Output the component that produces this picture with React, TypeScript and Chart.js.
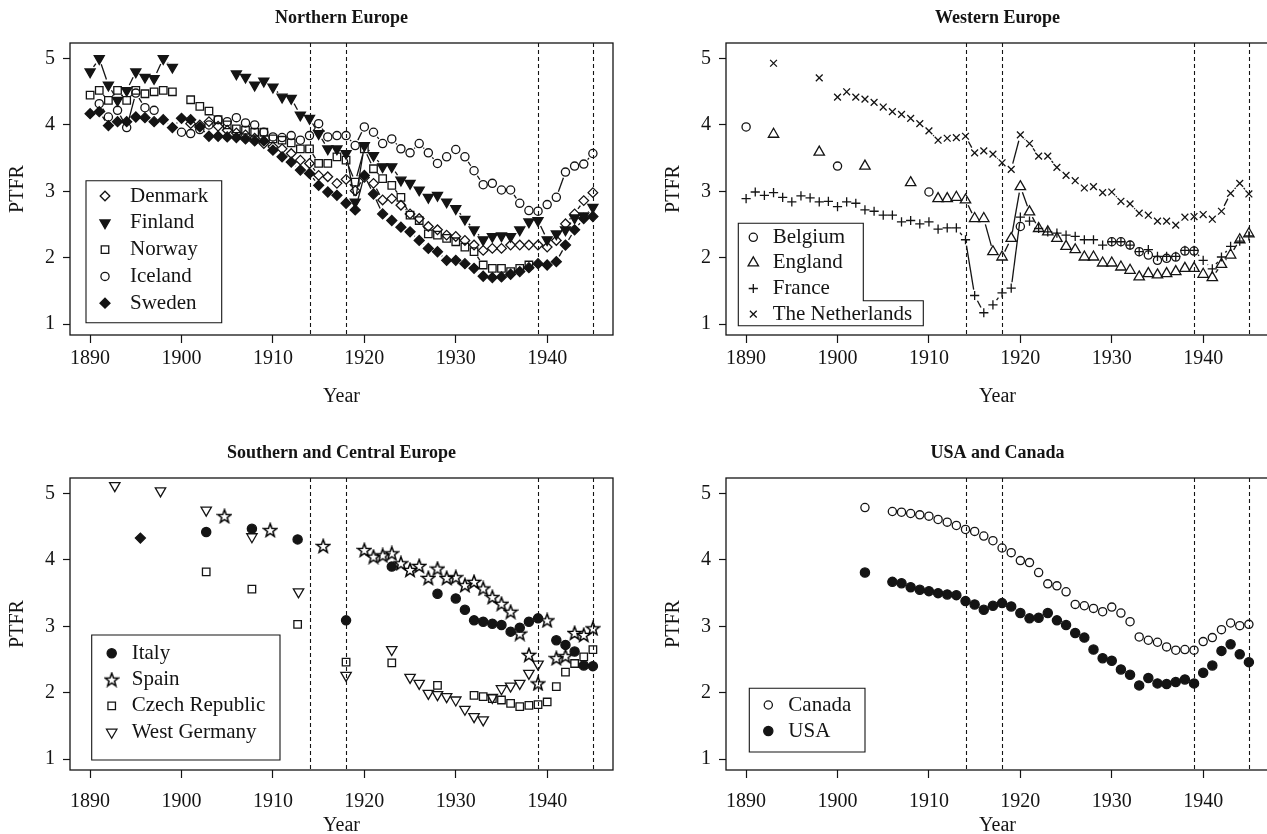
import React, { useEffect, useRef } from "react";
import { Chart, registerables } from "chart.js";
import { drawPoint } from "chart.js/helpers";

Chart.register(...registerables);

// ---------------- data ----------------
const annualYears = [
  1890, 1891, 1892, 1893, 1894, 1895, 1896, 1897, 1898, 1899,
  1900, 1901, 1902, 1903, 1904, 1905, 1906, 1907, 1908, 1909,
  1910, 1911, 1912, 1913, 1914, 1915, 1916, 1917, 1918, 1919,
  1920, 1921, 1922, 1923, 1924, 1925, 1926, 1927, 1928, 1929,
  1930, 1931, 1932, 1933, 1934, 1935, 1936, 1937, 1938, 1939,
  1940, 1941, 1942, 1943, 1944, 1945,
];
const xTickValues = [1890, 1900, 1910, 1920, 1930, 1940];
const yTickValues = [1, 2, 3, 4, 5];
const warYears = [1914, 1918, 1939, 1945];

// Northern Europe
const denmarkYears = annualYears.slice(11);
const denmarkValues = [
  4.02, 4.0, 4.05, 3.98, 3.92, 3.88, 3.85, 3.8, 3.72,
  3.67, 3.64, 3.57, 3.47, 3.42, 3.24, 3.22, 3.12, 3.18, 3.01,
  3.21, 3.12, 2.87, 2.89, 2.79, 2.66, 2.59, 2.47, 2.42, 2.34,
  2.32, 2.26, 2.19, 2.11, 2.14, 2.14, 2.19, 2.19, 2.19, 2.19,
  2.16, 2.26, 2.51, 2.66, 2.86, 2.98,
];
const finlandYears = [...annualYears.slice(0, 10), ...annualYears.slice(16)];
const finlandValues = [
  4.8, 5.0, 4.6, 4.37, 4.52, 4.8, 4.72, 4.7, 5.0, 4.87,
  4.77, 4.72, 4.6, 4.66,
  4.57, 4.42, 4.4, 4.15, 4.1, 3.87, 3.64, 3.64, 3.57, 2.84,
  3.69, 3.54, 3.37, 3.37, 3.17, 3.12, 3.02, 2.91, 2.94, 2.84,
  2.74, 2.58, 2.42, 2.27, 2.32, 2.33, 2.32, 2.42, 2.54, 2.56,
  2.27, 2.36, 2.42, 2.6, 2.63, 2.76,
];
const norwayYears = [...annualYears.slice(0, 10), ...annualYears.slice(11, 49)];
const norwayValues = [
  4.45, 4.52, 4.37, 4.52, 4.37, 4.52, 4.47, 4.5, 4.52, 4.5,
  4.38, 4.28, 4.21, 4.08, 4.0, 3.94, 3.92, 3.89, 3.89,
  3.79, 3.77, 3.73, 3.64, 3.64, 3.42, 3.42, 3.52, 3.47, 3.14,
  3.64, 3.34, 3.19, 3.09, 2.91, 2.64, 2.56, 2.36, 2.34, 2.29,
  2.24, 2.16, 2.09, 1.89, 1.84, 1.84, 1.79, 1.84, 1.89,
];
const icelandYears = [...annualYears.slice(1, 8), ...annualYears.slice(10)];
const icelandValues = [
  4.32, 4.12, 4.22, 3.96, 4.48, 4.26, 4.22,
  3.89, 3.87, 3.93, 4.0, 4.08, 4.05, 4.11, 4.03, 4.0, 3.89,
  3.82, 3.81, 3.84, 3.77, 3.84, 4.02, 3.82, 3.84, 3.84, 3.69,
  3.97, 3.89, 3.72, 3.79, 3.64, 3.58, 3.72, 3.58, 3.42, 3.52,
  3.63, 3.52, 3.31, 3.1, 3.12, 3.02, 3.02, 2.82, 2.71, 2.7,
  2.8, 2.91, 3.29, 3.38, 3.41, 3.57,
];
const swedenYears = annualYears;
const swedenValues = [
  4.17, 4.2, 3.99, 4.05, 4.05, 4.12, 4.11, 4.05, 4.08, 3.96,
  4.1, 4.08, 3.97, 3.83, 3.83, 3.82, 3.81, 3.79, 3.76, 3.76,
  3.62, 3.52, 3.44, 3.32, 3.27, 3.09, 2.99, 2.94, 2.82, 2.72,
  3.24, 2.96, 2.66, 2.56, 2.46, 2.39, 2.26, 2.14, 2.09, 1.96,
  1.96, 1.91, 1.84, 1.72, 1.7, 1.71, 1.75, 1.79, 1.85, 1.91,
  1.89, 1.94, 2.19, 2.42, 2.59, 2.62,
];

// Western Europe
const belgiumYears = [1890, 1900, 1910, 1920, ...annualYears.slice(40, 50)];
const belgiumValues = [3.97, 3.38, 2.99, 2.47, 2.24, 2.24, 2.19, 2.09, 2.04, 1.96, 1.99, 2.01, 2.1, 2.1];
const englandYears = [1893, 1898, 1903, 1908, ...annualYears.slice(21)];
const englandValues = [
  3.86, 3.59, 3.38, 3.13,
  2.89, 2.89, 2.91, 2.87, 2.59, 2.59, 2.09, 2.01, 2.29,
  3.07, 2.69, 2.44, 2.39, 2.29, 2.17, 2.12, 2.01, 2.01, 1.92,
  1.92, 1.86, 1.81, 1.71, 1.76, 1.74, 1.76, 1.79, 1.84, 1.84,
  1.75, 1.7, 1.9, 2.04, 2.27, 2.36,
];
const franceYears = annualYears;
const franceValues = [
  2.89, 2.99, 2.94, 2.98, 2.91, 2.84, 2.93, 2.9, 2.84, 2.85,
  2.77, 2.84, 2.82, 2.72, 2.7, 2.64, 2.64, 2.54, 2.56, 2.51,
  2.54, 2.43, 2.45, 2.45, 2.27, 1.43, 1.17, 1.29, 1.47, 1.54,
  2.61, 2.55, 2.44, 2.39, 2.37, 2.34, 2.32, 2.27, 2.27, 2.19,
  2.24, 2.24, 2.19, 2.09, 2.12, 2.02, 2.02, 2.02, 2.11, 2.11,
  1.96, 1.83, 2.01, 2.17, 2.25, 2.33,
];
const netherlandsYears = [1893, 1898, ...annualYears.slice(10)];
const netherlandsValues = [
  4.93, 4.71,
  4.42, 4.5, 4.42, 4.39, 4.34, 4.27, 4.2, 4.16, 4.1, 4.02,
  3.91, 3.77, 3.8, 3.81, 3.83, 3.58, 3.61, 3.56, 3.43, 3.33,
  3.85, 3.72, 3.53, 3.53, 3.36, 3.24, 3.16, 3.05, 3.07, 2.98,
  2.99, 2.85, 2.81, 2.67, 2.64, 2.55, 2.55, 2.49, 2.61, 2.62,
  2.65, 2.58, 2.7, 2.97, 3.12, 2.96,
];

// Southern and Central Europe
const italyYears = [1902.7, 1907.7, 1912.7, 1918, 1923, 1928, 1930, 1931, 1932, 1933, 1934, 1935, 1936, 1937, 1938, 1939, 1941, 1942, 1943, 1944, 1945];
const italyValues = [4.42, 4.47, 4.31, 3.09, 3.9, 3.49, 3.42, 3.25, 3.09, 3.07, 3.04, 3.02, 2.92, 2.98, 3.07, 3.12, 2.79, 2.72, 2.62, 2.41, 2.4];
const spainYears = [1904.7, 1909.7, 1915.5, ...annualYears.slice(30)];
const spainValues = [
  4.66, 4.45, 4.21,
  4.15, 4.05, 4.07, 4.1, 3.95, 3.85, 3.91, 3.73, 3.87, 3.73,
  3.74, 3.62, 3.67, 3.57, 3.44, 3.34, 3.22, 2.89, 2.57, 2.14,
  3.09, 2.52, 2.55, 2.9, 2.87, 2.97,
];
const czechYears = [1902.7, 1907.7, 1912.7, 1918, 1923, 1928, ...annualYears.slice(42)];
const czechValues = [3.82, 3.56, 3.03, 2.46, 2.45, 2.11, 1.96, 1.94, 1.91, 1.89, 1.84, 1.79, 1.81, 1.82, 1.86, 2.09, 2.31, 2.44, 2.54, 2.65];
const westGermanyYears = [1892.7, 1897.7, 1902.7, 1907.7, 1912.8, 1918, 1923, ...annualYears.slice(35, 50)];
const westGermanyValues = [5.12, 5.04, 4.75, 4.35, 3.52, 2.26, 2.65, 2.23, 2.14, 1.99, 1.97, 1.94, 1.89, 1.75, 1.64, 1.59, 1.93, 2.06, 2.1, 2.14, 2.29, 2.43];
const unlabeledYears = [1895.5];
const unlabeledValues = [4.33];

// USA and Canada
const canadaYears = [1903, ...annualYears.slice(16)];
const canadaValues = [
  4.79,
  4.73, 4.72, 4.7, 4.68,
  4.66, 4.61, 4.57, 4.52, 4.46, 4.43, 4.36, 4.29, 4.18, 4.11,
  3.99, 3.96, 3.81, 3.64, 3.61, 3.52, 3.33, 3.31, 3.27, 3.22,
  3.29, 3.2, 3.07, 2.84, 2.79, 2.76, 2.69, 2.64, 2.65, 2.64,
  2.77, 2.83, 2.95, 3.05, 3.01, 3.03,
];
const usaYears = [1903, ...annualYears.slice(16)];
const usaValues = [
  3.81,
  3.67, 3.65, 3.59, 3.55,
  3.53, 3.5, 3.48, 3.47, 3.38, 3.33, 3.25, 3.31, 3.35, 3.3,
  3.2, 3.12, 3.13, 3.2, 3.09, 3.02, 2.9, 2.83, 2.65, 2.52,
  2.48, 2.35, 2.27, 2.11, 2.22, 2.14, 2.13, 2.16, 2.2, 2.14,
  2.3, 2.41, 2.63, 2.73, 2.58, 2.46,
];

// ---------------- layout & style ----------------
const INK = "#141414";
const SERIF = "'Liberation Serif', 'Times New Roman', Times, serif";
const CHART_W = 543;
const CHART_H = 292;
const Y_AXIS_W = 70;
const X_AXIS_H = 82;
const TITLE_H = 43;
const PAD_RIGHT = 20;
const CANVAS_W = Y_AXIS_W + CHART_W + PAD_RIGHT;
const CANVAS_H = TITLE_H + CHART_H + X_AXIS_H;
const X_MIN = 1887.8;
const X_MAX = 1947.2;
const Y_MIN = 0.835;
const Y_MAX = 5.235;
const LINE_GAP = 6;
const STROKE = 1.3;

let starCanvas: HTMLCanvasElement | null = null;
function starStyle(): HTMLCanvasElement {
  if (starCanvas) return starCanvas;
  const c = document.createElement("canvas");
  c.width = 16;
  c.height = 16;
  const ctx = c.getContext("2d")!;
  ctx.strokeStyle = "#000";
  ctx.lineWidth = 1.5;
  ctx.lineJoin = "miter";
  ctx.beginPath();
  for (let i = 0; i < 10; i++) {
    const r = i % 2 === 0 ? 7 : 2.9;
    const a = -Math.PI / 2 + (i * Math.PI) / 5;
    const px = 8 + r * Math.cos(a);
    const py = 8.6 + r * Math.sin(a);
    if (i === 0) ctx.moveTo(px, py);
    else ctx.lineTo(px, py);
  }
  ctx.closePath();
  ctx.stroke();
  starCanvas = c;
  return c;
}

type Marker = { style: any; fill: boolean; radius: number; rotation?: number };
const markers: Record<string, () => Marker> = {
  diamondOpen: () => ({ style: "rectRot", fill: false, radius: 4.8 }),
  triDownFilled: () => ({ style: "triangle", fill: true, radius: 5.8, rotation: 180 }),
  squareOpen: () => ({ style: "rect", fill: false, radius: 5.3 }),
  circleOpen: () => ({ style: "circle", fill: false, radius: 4.1 }),
  diamondFilled: () => ({ style: "rectRot", fill: true, radius: 5 }),
  triUpOpen: () => ({ style: "triangle", fill: false, radius: 6 }),
  plus: () => ({ style: "cross", fill: false, radius: 4.6 }),
  times: () => ({ style: "crossRot", fill: false, radius: 4.8 }),
  circleFilled: () => ({ style: "circle", fill: true, radius: 4.6 }),
  star: () => ({ style: starStyle(), fill: false, radius: 6 }),
  triDownOpen: () => ({ style: "triangle", fill: false, radius: 6, rotation: 180 }),
};

type SeriesDef = { label: string | null; years: number[]; values: number[]; marker: string };
type LegendDef = { outline: number[][]; markerX: number; textX: number; rowY: number; rowStep: number };
type PanelDef = {
  title: string;
  left: number;
  top: number;
  lines: boolean;
  xLabelPad: number;
  xTitlePad: number;
  series: SeriesDef[];
  legend: LegendDef;
};

const panels: PanelDef[] = [
  {
    title: "Northern Europe",
    left: 0,
    top: 0,
    lines: true,
    xLabelPad: 4,
    xTitlePad: 8,
    series: [
      { label: "Denmark", years: denmarkYears, values: denmarkValues, marker: "diamondOpen" },
      { label: "Finland", years: finlandYears, values: finlandValues, marker: "triDownFilled" },
      { label: "Norway", years: norwayYears, values: norwayValues, marker: "squareOpen" },
      { label: "Iceland", years: icelandYears, values: icelandValues, marker: "circleOpen" },
      { label: "Sweden", years: swedenYears, values: swedenValues, marker: "diamondFilled" },
    ],
    legend: {
      outline: [[16, 137.7], [151.7, 137.7], [151.7, 279.7], [16, 279.7]],
      markerX: 35,
      textX: 60,
      rowY: 153,
      rowStep: 26.8,
    },
  },
  {
    title: "Western Europe",
    left: 656,
    top: 0,
    lines: true,
    xLabelPad: 4,
    xTitlePad: 8,
    series: [
      { label: "Belgium", years: belgiumYears, values: belgiumValues, marker: "circleOpen" },
      { label: "England", years: englandYears, values: englandValues, marker: "triUpOpen" },
      { label: "France", years: franceYears, values: franceValues, marker: "plus" },
      { label: "The Netherlands", years: netherlandsYears, values: netherlandsValues, marker: "times" },
    ],
    legend: {
      outline: [[12.3, 180.3], [137.3, 180.3], [137.3, 257.7], [197.3, 257.7], [197.3, 282.7], [12.3, 282.7]],
      markerX: 27.3,
      textX: 46.7,
      rowY: 194.3,
      rowStep: 25.6,
    },
  },
  {
    title: "Southern and Central Europe",
    left: 0,
    top: 435,
    lines: false,
    xLabelPad: 12,
    xTitlePad: 14,
    series: [
      { label: "Italy", years: italyYears, values: italyValues, marker: "circleFilled" },
      { label: "Spain", years: spainYears, values: spainValues, marker: "star" },
      { label: "Czech Republic", years: czechYears, values: czechValues, marker: "squareOpen" },
      { label: "West Germany", years: westGermanyYears, values: westGermanyValues, marker: "triDownOpen" },
      { label: null, years: unlabeledYears, values: unlabeledValues, marker: "diamondFilled" },
    ],
    legend: {
      outline: [[21.7, 157], [210, 157], [210, 282], [21.7, 282]],
      markerX: 41.7,
      textX: 61.7,
      rowY: 175.3,
      rowStep: 26.3,
    },
  },
  {
    title: "USA and Canada",
    left: 656,
    top: 435,
    lines: false,
    xLabelPad: 12,
    xTitlePad: 14,
    series: [
      { label: "Canada", years: canadaYears, values: canadaValues, marker: "circleOpen" },
      { label: "USA", years: usaYears, values: usaValues, marker: "circleFilled" },
    ],
    legend: {
      outline: [[23.3, 210.3], [139, 210.3], [139, 274], [23.3, 274]],
      markerX: 42.3,
      textX: 62.3,
      rowY: 227,
      rowStep: 26,
    },
  },
];

function makeDecorPlugin(panel: PanelDef) {
  return {
    id: "decor",
    beforeDatasetsDraw(chart: any) {
      const { ctx, chartArea: a, scales } = chart;
      ctx.save();
      ctx.beginPath();
      ctx.rect(a.left, a.top, a.right - a.left, a.bottom - a.top);
      ctx.clip();
      ctx.strokeStyle = INK;
      ctx.lineWidth = 1.1;
      ctx.setLineDash([4, 3]);
      for (const yr of warYears) {
        const x = Math.round(scales.x.getPixelForValue(yr)) + 0.5;
        ctx.beginPath();
        ctx.moveTo(x, a.top);
        ctx.lineTo(x, a.bottom);
        ctx.stroke();
      }
      ctx.setLineDash([]);
      if (panel.lines) {
        ctx.lineWidth = STROKE;
        chart.data.datasets.forEach((ds: any, di: number) => {
          const pts = chart.getDatasetMeta(di).data;
          for (let i = 0; i < pts.length - 1; i++) {
            if (ds.data[i + 1].x - ds.data[i].x !== 1) continue;
            const p0 = pts[i];
            const p1 = pts[i + 1];
            const dx = p1.x - p0.x;
            const dy = p1.y - p0.y;
            const len = Math.hypot(dx, dy);
            if (len <= 2 * LINE_GAP) continue;
            const ux = dx / len;
            const uy = dy / len;
            ctx.beginPath();
            ctx.moveTo(p0.x + ux * LINE_GAP, p0.y + uy * LINE_GAP);
            ctx.lineTo(p1.x - ux * LINE_GAP, p1.y - uy * LINE_GAP);
            ctx.stroke();
          }
        });
      }
      ctx.restore();
    },
    afterDatasetsDraw(chart: any) {
      const { ctx, chartArea: a } = chart;
      ctx.save();
      ctx.strokeStyle = INK;
      ctx.lineWidth = 1.3;
      ctx.strokeRect(a.left, a.top, a.right - a.left, a.bottom - a.top);
      // legend
      const lg = panel.legend;
      ctx.lineWidth = 1.1;
      ctx.beginPath();
      lg.outline.forEach(([x, y], i) => {
        const px = a.left + x;
        const py = a.top + y;
        if (i === 0) ctx.moveTo(px, py);
        else ctx.lineTo(px, py);
      });
      ctx.closePath();
      ctx.stroke();
      ctx.font = `21px ${SERIF}`;
      ctx.textBaseline = "middle";
      ctx.textAlign = "left";
      let row = 0;
      panel.series.forEach((s) => {
        if (!s.label) return;
        const m = markers[s.marker]();
        const y = a.top + lg.rowY + row * lg.rowStep;
        ctx.fillStyle = m.fill ? INK : "rgba(0,0,0,0)";
        ctx.strokeStyle = INK;
        ctx.lineWidth = STROKE;
        drawPoint(ctx, { pointStyle: m.style, rotation: m.rotation ?? 0, radius: m.radius, borderWidth: STROKE } as any, a.left + lg.markerX, y);
        ctx.fillStyle = INK;
        ctx.fillText(s.label, a.left + lg.textX, y);
        row++;
      });
      ctx.restore();
    },
  };
}

function buildConfig(panel: PanelDef): any {
  return {
    type: "scatter",
    data: {
      datasets: panel.series.map((s) => {
        const m = markers[s.marker]();
        return {
          label: s.label ?? "",
          data: s.years.map((x, i) => ({ x, y: s.values[i] })),
          pointStyle: m.style,
          pointRadius: m.radius,
          pointHoverRadius: m.radius,
          pointRotation: m.rotation ?? 0,
          pointBackgroundColor: m.fill ? INK : "rgba(0,0,0,0)",
          pointBorderColor: INK,
          pointBorderWidth: STROKE,
          showLine: false,
        };
      }),
    },
    options: {
      responsive: false,
      animation: false,
      devicePixelRatio: 1,
      events: [],
      layout: { padding: { left: 0, right: PAD_RIGHT, top: 0, bottom: 0 } },
      plugins: {
        legend: { display: false },
        tooltip: { enabled: false },
        title: {
          display: true,
          text: panel.title,
          fullSize: false,
          color: INK,
          font: { family: SERIF, size: 18, weight: "bold", lineHeight: 1.2 },
          padding: { top: 8, bottom: TITLE_H - 8 - 18 * 1.2 },
        },
      },
      scales: {
        x: {
          type: "linear",
          min: X_MIN,
          max: X_MAX,
          afterBuildTicks: (s: any) => {
            s.ticks = xTickValues.map((v) => ({ value: v }));
          },
          afterFit: (s: any) => {
            s.height = X_AXIS_H;
          },
          grid: { display: true, drawOnChartArea: false, drawTicks: true, tickLength: 8, tickColor: INK, color: INK, tickWidth: 1.2 },
          border: { display: false },
          ticks: {
            color: INK,
            font: { family: SERIF, size: 20 },
            padding: panel.xLabelPad,
            maxRotation: 0,
            autoSkip: false,
            callback: (v: any) => String(v),
          },
          title: {
            display: true,
            text: "Year",
            color: INK,
            font: { family: SERIF, size: 20 },
            padding: { top: 0, bottom: panel.xTitlePad },
          },
        },
        y: {
          type: "linear",
          min: Y_MIN,
          max: Y_MAX,
          afterBuildTicks: (s: any) => {
            s.ticks = yTickValues.map((v) => ({ value: v }));
          },
          afterFit: (s: any) => {
            s.width = Y_AXIS_W;
          },
          grid: { display: true, drawOnChartArea: false, drawTicks: true, tickLength: 7, tickColor: INK, color: INK, tickWidth: 1.2 },
          border: { display: false },
          ticks: {
            color: INK,
            font: { family: SERIF, size: 20 },
            padding: 8,
            autoSkip: false,
            callback: (v: any) => String(v),
          },
          title: {
            display: true,
            text: "PTFR",
            color: INK,
            font: { family: SERIF, size: 20 },
            padding: { top: 6, bottom: 0 },
          },
        },
      },
    },
    plugins: [makeDecorPlugin(panel)],
  };
}

function Panel({ panel }: { panel: PanelDef }) {
  const ref = useRef<HTMLCanvasElement>(null);
  useEffect(() => {
    if (!ref.current) return;
    const chart = new Chart(ref.current, buildConfig(panel));
    return () => chart.destroy();
  }, [panel]);
  return (
    <canvas
      ref={ref}
      width={CANVAS_W}
      height={CANVAS_H}
      style={{ position: "absolute", left: panel.left, top: panel.top, width: CANVAS_W, height: CANVAS_H }}
    />
  );
}

export default function App() {
  return (
    <div
      style={{
        position: "absolute",
        left: 0,
        top: 0,
        width: 1267,
        height: 834,
        overflow: "hidden",
        background: "#fff",
      }}
    >
      {panels.map((p) => (
        <Panel key={p.title} panel={p} />
      ))}
    </div>
  );
}
